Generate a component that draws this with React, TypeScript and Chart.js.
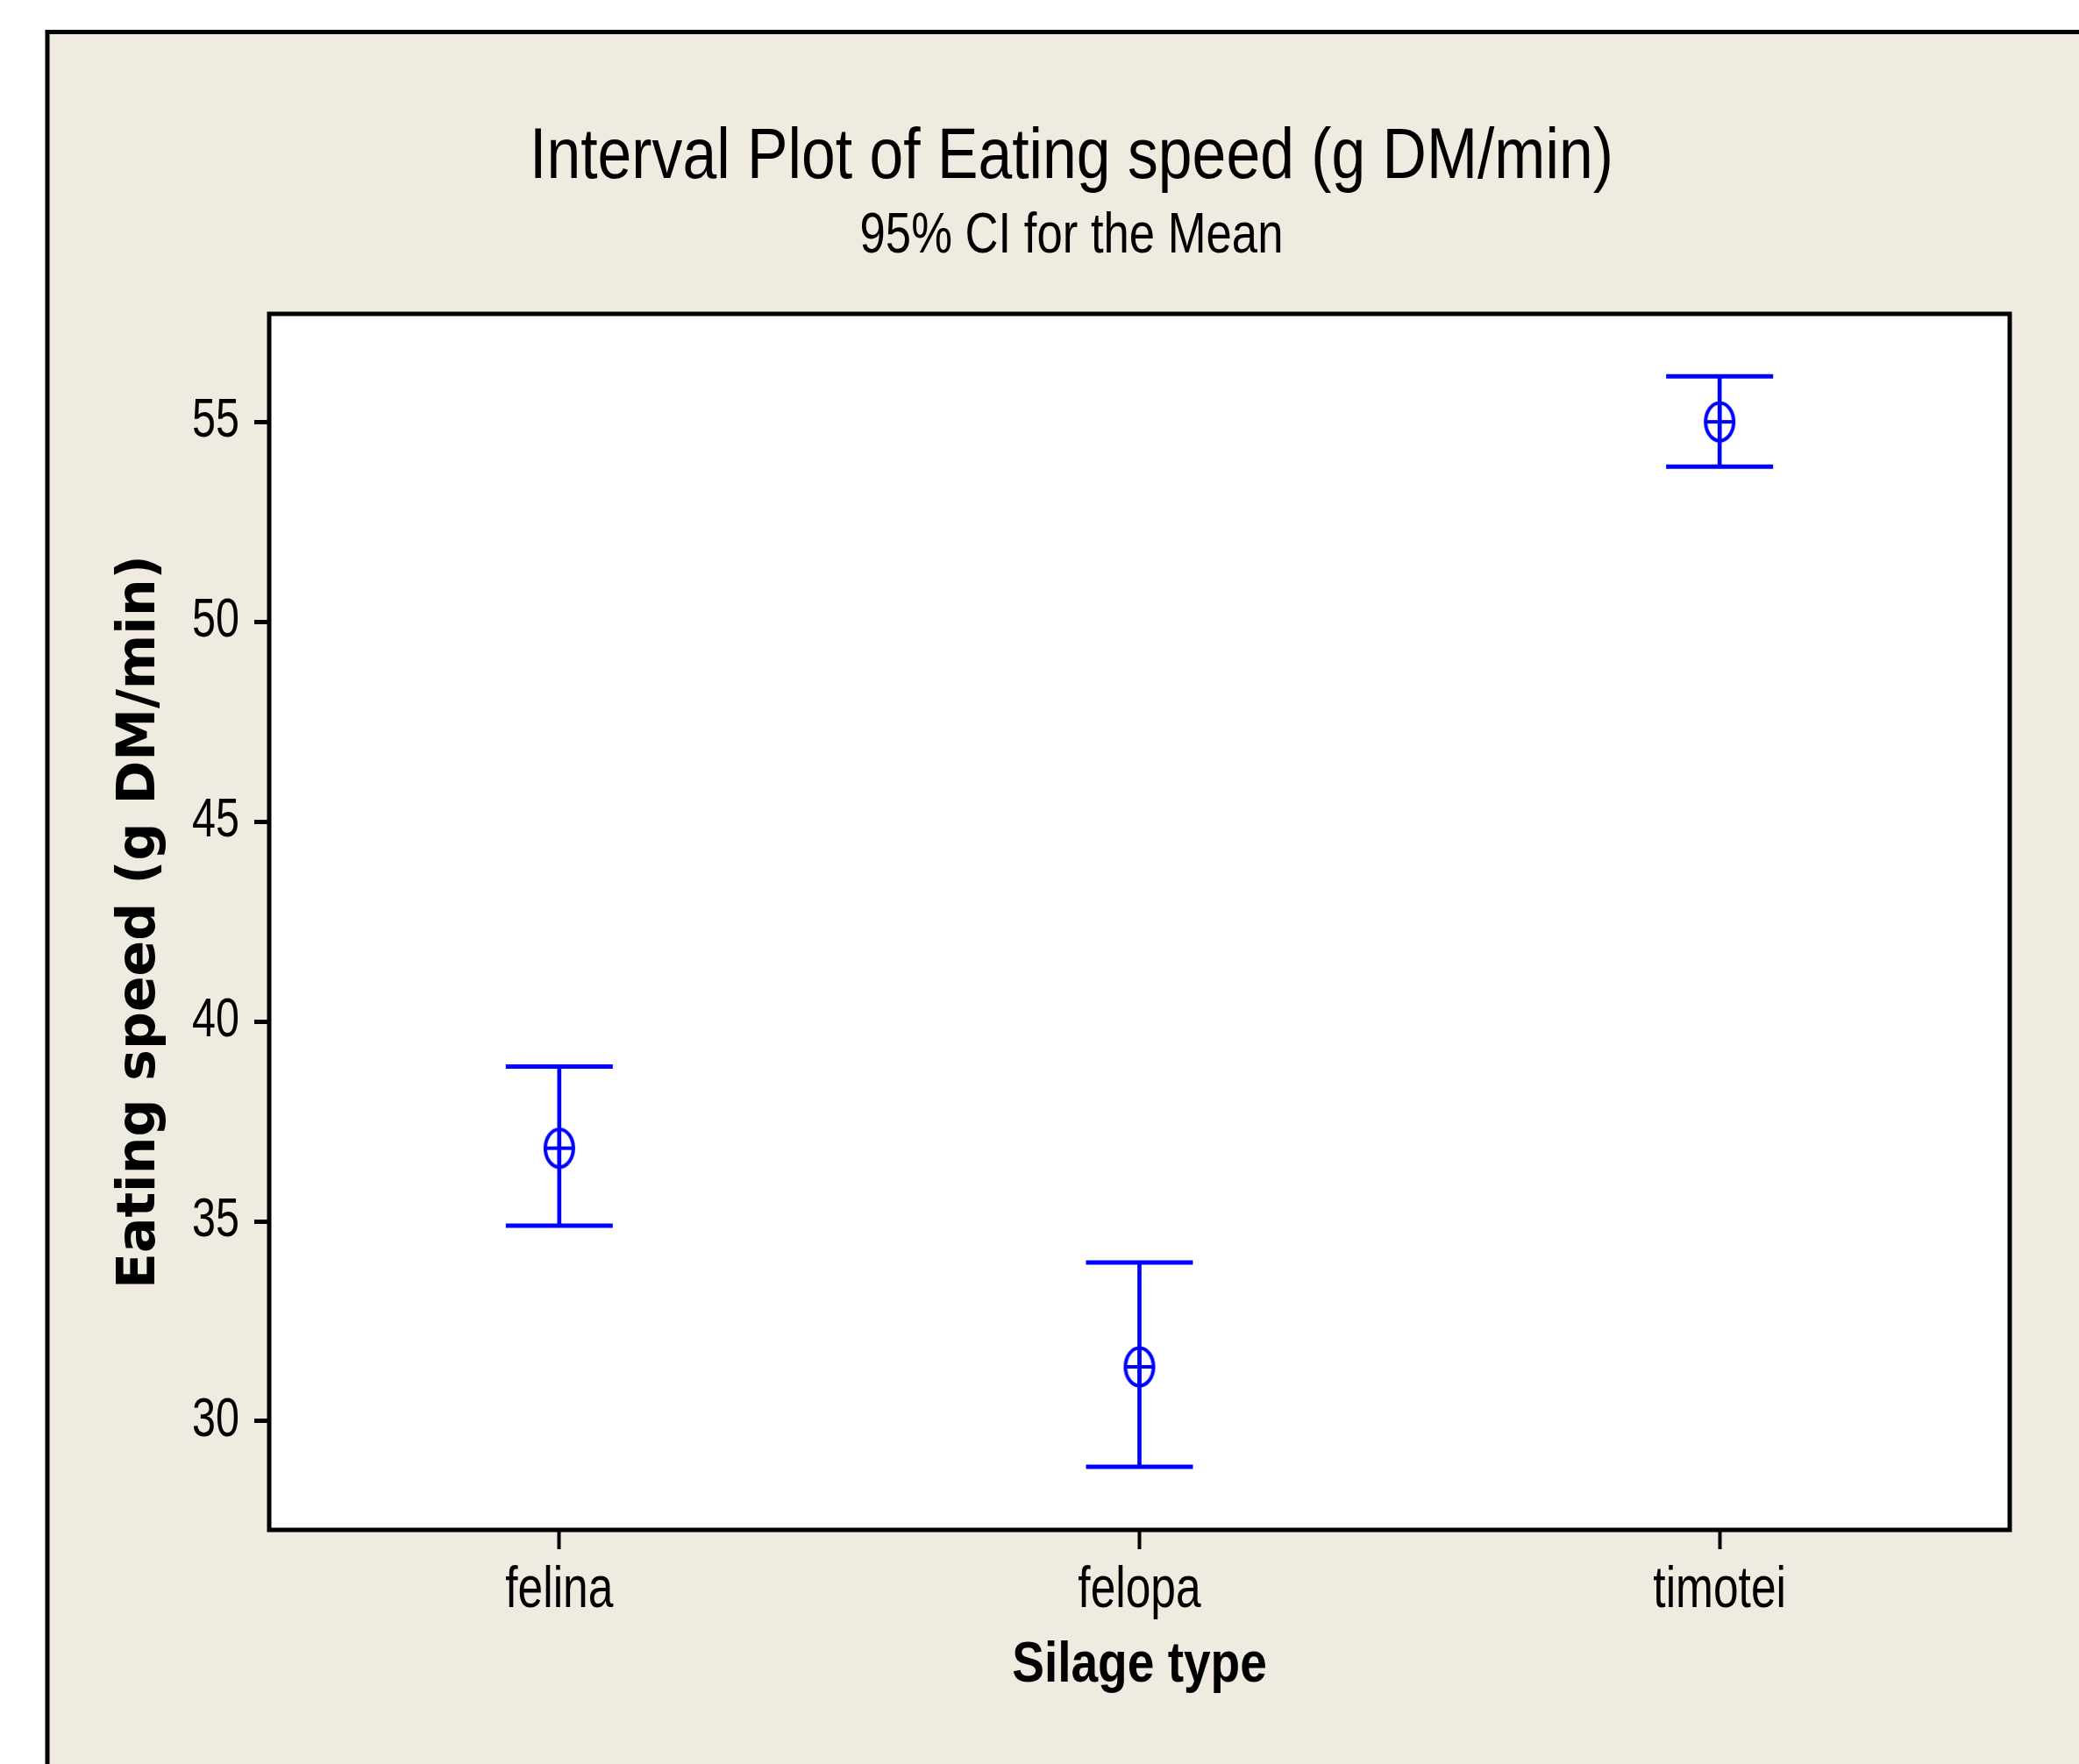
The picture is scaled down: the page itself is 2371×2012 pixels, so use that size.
import React, { useEffect, useRef } from 'react';
import { Chart, registerables } from 'chart.js';

Chart.register(...registerables);

// ---- data ----
const categories = ['felina', 'felopa', 'timotei'];
const means = [36.83, 31.36, 55.0];
const lowerCI = [34.89, 28.86, 53.88];
const upperCI = [38.87, 33.97, 56.14];
const yTicks = [30, 35, 40, 45, 50, 55];
const yMin = 27.28;
const yMax = 57.7;

const titleText = 'Interval Plot of Eating speed (g DM/min)';
const subtitleText = '95% CI for the Mean';
const xTitleText = 'Silage type';
const yTitleText = 'Eating speed (g DM/min)';

// ---- style ----
const BLUE = '#0000ff';
const BEIGE = '#efebe1';
const SANS = "'Liberation Sans', sans-serif";
const W = 2371;
const H = 2012;
// horizontal condensing per font size (px) to mimic the narrow Minitab font
const condense: Record<number, number> = { 82: 0.85, 65: 0.81, 66: 0.78, 63: 0.77, 64: 0.86 };

function makeMarker(): HTMLCanvasElement {
  const c = document.createElement('canvas');
  c.width = 44;
  c.height = 54;
  const g = c.getContext('2d') as CanvasRenderingContext2D;
  g.strokeStyle = BLUE;
  g.lineWidth = 4;
  g.beginPath();
  g.ellipse(22, 27, 16, 21.5, 0, 0, Math.PI * 2);
  g.stroke();
  g.beginPath();
  g.moveTo(4, 27);
  g.lineTo(40, 27);
  g.stroke();
  g.beginPath();
  g.moveTo(22, 4);
  g.lineTo(22, 50);
  g.stroke();
  return c;
}

const condensePlugin = {
  id: 'condenseText',
  beforeInit(chart: any) {
    const ctx = chart.ctx as any;
    if (ctx.__condensed) return;
    const orig = ctx.fillText.bind(ctx);
    ctx.fillText = function (text: string, x: number, y: number, maxWidth?: number) {
      const f: string = ctx.font;
      if (f.indexOf('Liberation') === -1) {
        return maxWidth === undefined ? orig(text, x, y) : orig(text, x, y, maxWidth);
      }
      const m = /(\d+(?:\.\d+)?)px/.exec(f);
      const s = m && condense[Math.round(+m[1])] ? condense[Math.round(+m[1])] : 0.82;
      ctx.save();
      ctx.translate(x, y);
      ctx.scale(s, 1);
      if (maxWidth === undefined) orig(text, 0, 0);
      else orig(text, 0, 0, maxWidth / s);
      ctx.restore();
    };
    ctx.__condensed = true;
  },
};

const framePlugin = {
  id: 'minitabFrame',
  beforeDraw(chart: any) {
    const { ctx, width, height, chartArea } = chart;
    ctx.save();
    ctx.fillStyle = '#ffffff';
    ctx.fillRect(0, 0, width, height);
    ctx.fillStyle = BEIGE;
    ctx.fillRect(54, 36.5, width, height);
    ctx.strokeStyle = '#000000';
    ctx.lineWidth = 5;
    ctx.beginPath();
    ctx.moveTo(54, height + 10);
    ctx.lineTo(54, 36.5);
    ctx.lineTo(width + 10, 36.5);
    ctx.stroke();
    ctx.fillStyle = '#ffffff';
    ctx.fillRect(chartArea.left, chartArea.top, chartArea.right - chartArea.left, chartArea.bottom - chartArea.top);
    ctx.restore();
  },
  afterDraw(chart: any) {
    const { ctx, chartArea } = chart;
    ctx.save();
    ctx.strokeStyle = '#000000';
    ctx.lineWidth = 5;
    ctx.strokeRect(chartArea.left, chartArea.top, chartArea.right - chartArea.left, chartArea.bottom - chartArea.top);
    ctx.restore();
  },
};

export default function App() {
  const ref = useRef<HTMLCanvasElement | null>(null);

  useEffect(() => {
    if (!ref.current) return;
    const marker = makeMarker();
    const chart = new Chart(ref.current, {
      type: 'bar',
      data: {
        labels: categories,
        datasets: [
          {
            type: 'line',
            data: means,
            showLine: false,
            pointStyle: marker as any,
            pointRadius: 22,
            pointHoverRadius: 22,
            borderColor: BLUE,
            backgroundColor: BLUE,
            order: 1,
          } as any,
          {
            type: 'line',
            data: upperCI,
            showLine: false,
            pointStyle: 'line',
            pointRadius: 61,
            pointHoverRadius: 61,
            pointBorderWidth: 5,
            pointBorderColor: BLUE,
            borderColor: BLUE,
            backgroundColor: BLUE,
            order: 2,
          } as any,
          {
            type: 'line',
            data: lowerCI,
            showLine: false,
            pointStyle: 'line',
            pointRadius: 61,
            pointHoverRadius: 61,
            pointBorderWidth: 5,
            pointBorderColor: BLUE,
            borderColor: BLUE,
            backgroundColor: BLUE,
            order: 2,
          } as any,
          {
            type: 'bar',
            data: categories.map((_, i) => [lowerCI[i], upperCI[i]]),
            backgroundColor: BLUE,
            borderWidth: 0,
            barThickness: 4,
            order: 3,
          } as any,
        ],
      },
      options: {
        responsive: false,
        maintainAspectRatio: false,
        devicePixelRatio: 1,
        animation: false,
        events: [],
        layout: { padding: { left: 152, right: 79, top: 0, bottom: 0 } },
        plugins: {
          legend: { display: false },
          tooltip: { enabled: false },
          title: {
            display: true,
            text: titleText,
            color: '#000000',
            font: { family: SANS, size: 82, weight: 'normal', lineHeight: 1.2 },
            padding: { top: 131.4, bottom: 0 },
          },
          subtitle: {
            display: true,
            text: subtitleText,
            color: '#000000',
            font: { family: SANS, size: 65, weight: 'normal', lineHeight: 1.2 },
            padding: { top: 1.7, bottom: 48.5 },
          },
        },
        scales: {
          x: {
            type: 'category',
            offset: true,
            grid: {
              display: true,
              drawOnChartArea: false,
              drawTicks: true,
              tickLength: 22,
              tickWidth: 4,
              tickColor: '#000000',
              offset: false,
            },
            border: { display: false },
            ticks: {
              color: '#000000',
              font: { family: SANS, size: 66, lineHeight: 1.2 },
              padding: 8,
              maxRotation: 0,
              autoSkip: false,
            },
            title: {
              display: true,
              text: xTitleText,
              color: '#000000',
              font: { family: SANS, size: 64, weight: 'bold', lineHeight: 1.2 },
              padding: { top: 0, bottom: 72.8 },
            },
            afterFit(s: any) {
              s.height = 267;
            },
          },
          y: {
            type: 'linear',
            min: yMin,
            max: yMax,
            afterBuildTicks(s: any) {
              s.ticks = yTicks.map((v) => ({ value: v }));
            },
            grid: {
              display: true,
              drawOnChartArea: false,
              drawTicks: true,
              tickLength: 17,
              tickWidth: 5,
              tickColor: '#000000',
            },
            border: { display: false },
            ticks: {
              color: '#000000',
              font: { family: SANS, size: 63, lineHeight: 1.2 },
              padding: 17,
            },
            title: {
              display: true,
              text: yTitleText,
              color: '#000000',
              font: { family: "'DejaVu Sans', sans-serif", size: 60, weight: 'bold', lineHeight: 1.2 },
              padding: { top: -28, bottom: 0 },
            },
            afterFit(s: any) {
              s.width = 155;
            },
          },
        },
      } as any,
      plugins: [condensePlugin, framePlugin],
    });
    return () => chart.destroy();
  }, []);

  return (
    <div style={{ position: 'absolute', left: 0, top: 0, width: W, height: H }}>
      <canvas ref={ref} width={W} height={H} style={{ display: 'block', width: W, height: H }} />
    </div>
  );
}
